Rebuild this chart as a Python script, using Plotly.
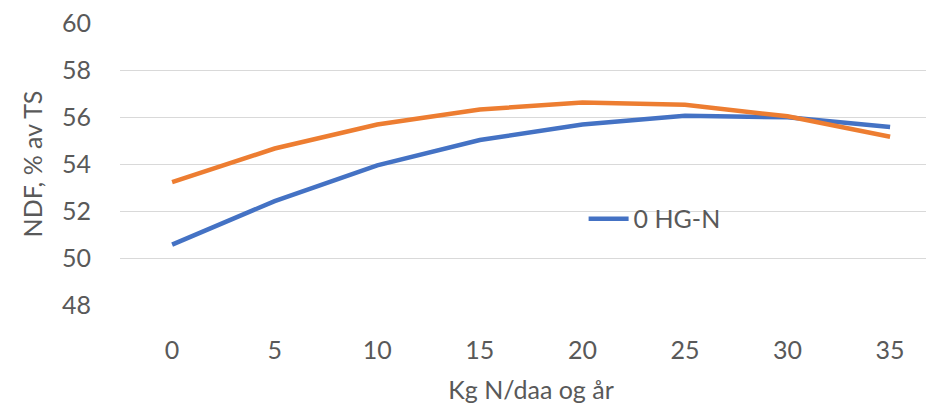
import plotly.graph_objects as go

x_vals = [0, 5, 10, 15, 20, 25, 30, 35]
blue_vals = [50.57, 52.42, 53.94, 55.02, 55.68, 56.05, 55.99, 55.57]
orange_vals = [53.23, 54.66, 55.68, 56.32, 56.62, 56.52, 56.03, 55.16]
y_ticks = [48, 50, 52, 54, 56, 58, 60]
blue_name = "0 HG-N"
orange_name = "HG-N"
x_title = "Kg N/daa og år"
y_title = "NDF, % av TS"

FONT = "Lato"
TXT = "#595959"
FS = 25

fig = go.Figure()
fig.add_trace(go.Scatter(x=x_vals, y=blue_vals, mode="lines", name=blue_name,
                         line=dict(color="#4472C4", width=4.5), showlegend=True))
fig.add_trace(go.Scatter(x=x_vals, y=orange_vals, mode="lines", name=orange_name,
                         line=dict(color="#ED7D31", width=4.5), showlegend=False))

fig.update_layout(
    width=942, height=409,
    margin=dict(l=120, r=0, t=23, b=104, autoexpand=False),
    paper_bgcolor="white", plot_bgcolor="white",
    font=dict(family=FONT, size=FS, color=TXT),
    legend=dict(x=0.564, y=0.305, xanchor="left", yanchor="middle",
                bgcolor="rgba(0,0,0,0)", font=dict(size=FS, color=TXT),
                itemwidth=40),
    xaxis=dict(range=[-2.54, 37.53], tickvals=x_vals, ticktext=[str(v) for v in x_vals],
               showgrid=False, zeroline=False, showline=False, ticks="",
               automargin=False, ticklabelstandoff=28,
               title=dict(text=x_title, font=dict(size=FS, color=TXT), standoff=18)),
    yaxis=dict(range=[48, 60], tickvals=y_ticks, showgrid=True, gridcolor="#D9D9D9",
               gridwidth=1, zeroline=False, showline=False, ticks="",
               automargin=False, ticklabelstandoff=28,
               title=dict(text=y_title, font=dict(size=FS, color=TXT), standoff=12)),
)

fig.write_html("out.html", config={"displayModeBar": False},
               post_script="document.body.style.margin='0';document.body.style.overflow='hidden';")
